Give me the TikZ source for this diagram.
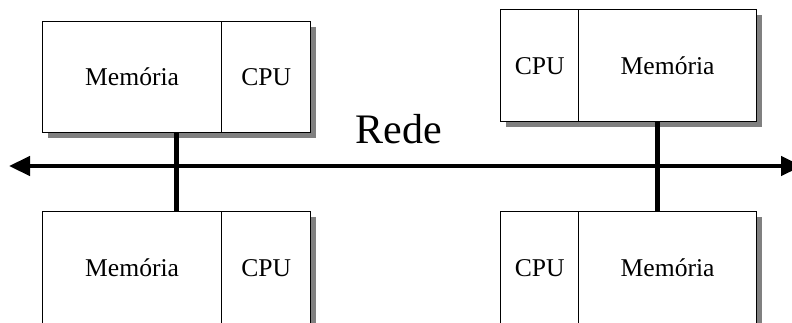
\documentclass[tikz,border=0pt]{standalone}
\usepackage{fontspec}
\setmainfont{Liberation Serif}
\usetikzlibrary{arrows.meta,shadows}
\begin{document}
\begin{tikzpicture}[x=1pt,y=-1pt,
  cell/.style={draw=black, line width=1.3pt, fill=white, inner sep=0pt,
    anchor=north west,
    general shadow={fill=black!50, shadow xshift=5pt, shadow yshift=-5pt},
    font=\fontsize{25.6}{30}\selectfont},
  bus/.style={draw=black, line width=4.5pt},
  nettip/.tip={Triangle[length=21pt,width=19pt]}]
  \useasboundingbox (0,0) rectangle (792,322);
  \clip (0,0) rectangle (792,322);

  % upper left machine
  \node[cell, minimum width=179pt, minimum height=111pt] (m1) at (42,21) {Memória};
  \node[cell, minimum width=89pt, minimum height=111pt] (c1) at (221,21) {CPU};
  % lower left machine
  \node[cell, minimum width=179pt, minimum height=112pt] (m2) at (42,211) {Memória};
  \node[cell, minimum width=89pt, minimum height=112pt] (c2) at (221,211) {CPU};
  % upper right machine
  \node[cell, minimum width=78pt, minimum height=112pt] (c3) at (500,9) {CPU};
  \node[cell, minimum width=178pt, minimum height=112pt] (m3) at (578,9) {Memória};
  % lower right machine
  \node[cell, minimum width=78pt, minimum height=112pt] (c4) at (500,211) {CPU};
  \node[cell, minimum width=178pt, minimum height=112pt] (m4) at (578,211) {Memória};

  % network
  \coordinate (netL) at (9,166);
  \coordinate (netR) at (802,166);
  \draw[bus, nettip-nettip] (netL) -- (netR);
  \node[font=\fontsize{42}{48}\selectfont, anchor=base, inner sep=0pt] (rede) at (398.5,143) {Rede};

  % attachments to the network
  \draw[bus] ([xshift=44.5pt]m1.south) -- ([xshift=44.5pt]m2.north);
  \draw[bus] ([xshift=-10pt]m3.south) -- ([xshift=-10pt]m4.north);
\end{tikzpicture}
\end{document}
